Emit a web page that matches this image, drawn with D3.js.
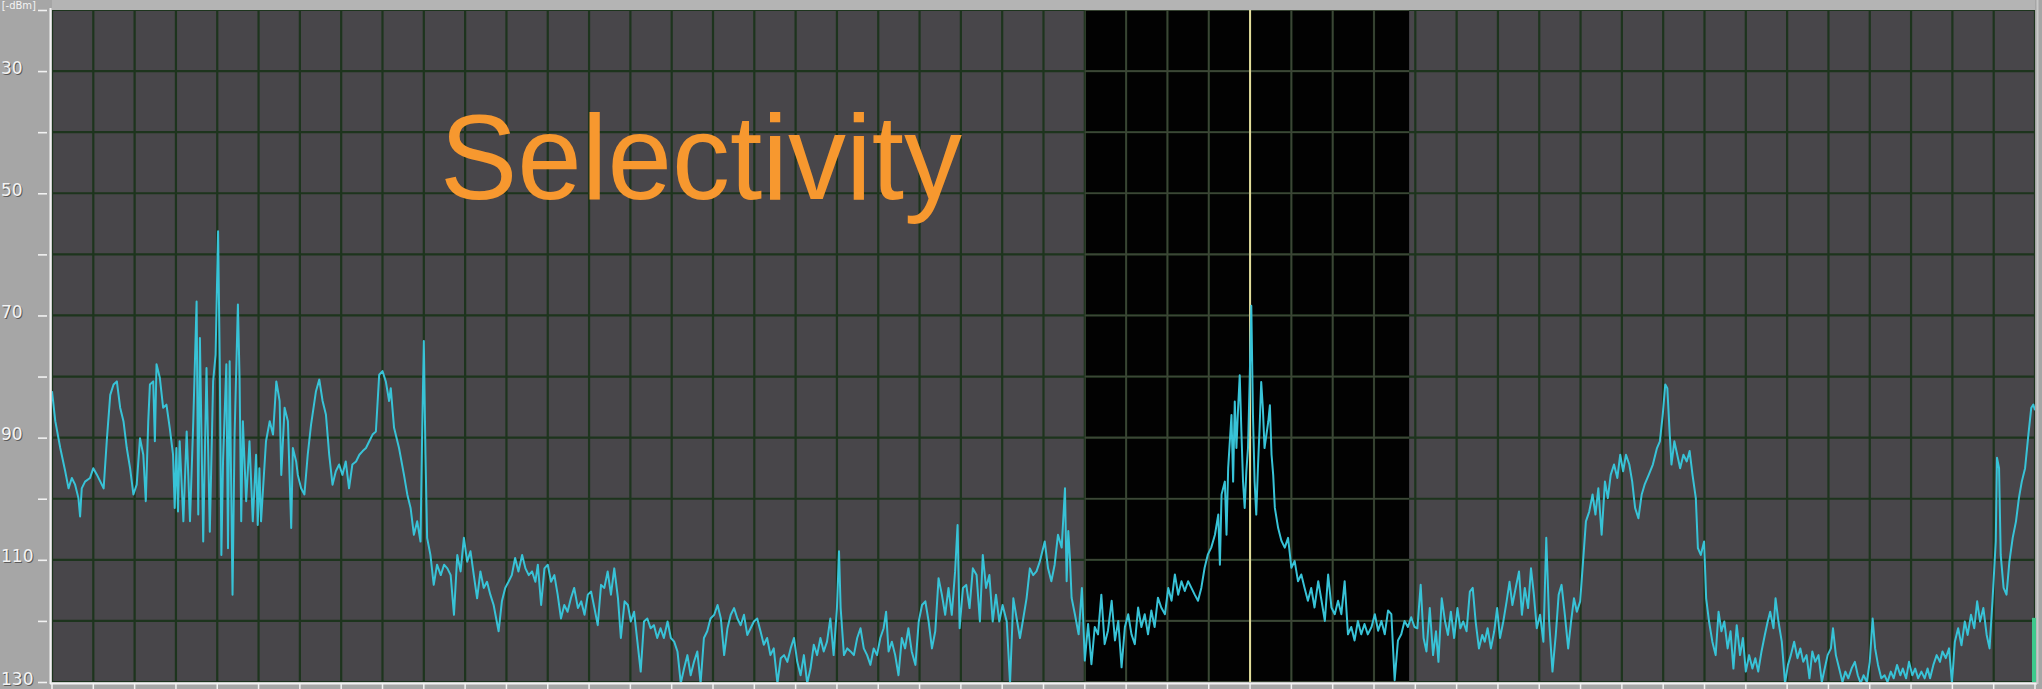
<!DOCTYPE html>
<html>
<head>
<meta charset="utf-8">
<script src="https://cdn.jsdelivr.net/npm/d3@7"></script>
<style>
  html, body { margin: 0; padding: 0; background: #a5a5a5; }
  svg { display: block; }
</style>
</head>
<body>
<svg id="chart" width="2042" height="689"></svg>
<script>
// Spectrum trace, [grid division, level dBm]; 48 divisions across the screen
const lowBand = [[0.00,-82.4],[0.08,-87.3],[0.20,-91.7],[0.32,-95.5],[0.40,-98.3],[0.48,-96.6],[0.56,-97.7],[0.64,-99.9],[0.68,-102.9],[0.72,-98.3],[0.80,-97.2],[0.92,-96.6],[1.00,-95.0],[1.09,-96.1],[1.17,-97.2],[1.25,-98.3],[1.33,-90.1],[1.41,-83.0],[1.49,-81.3],[1.57,-80.8],[1.65,-85.1],[1.73,-87.3],[1.81,-91.7],[1.89,-95.0],[1.97,-99.3],[2.05,-97.7],[2.13,-90.1],[2.21,-92.8],[2.27,-100.4],[2.33,-87.3],[2.37,-81.3],[2.45,-80.8],[2.49,-90.6],[2.53,-78.0],[2.61,-80.2],[2.69,-85.1],[2.77,-84.6],[2.85,-88.4],[2.93,-92.8],[2.97,-101.5],[3.01,-91.7],[3.05,-102.1],[3.09,-90.6],[3.18,-103.7],[3.26,-89.0],[3.34,-103.7],[3.42,-87.3],[3.50,-67.7],[3.54,-102.6],[3.58,-73.7],[3.66,-107.0],[3.74,-78.6],[3.82,-105.4],[3.90,-80.8],[3.96,-76.4],[4.02,-56.2],[4.06,-77.5],[4.10,-109.2],[4.14,-93.9],[4.22,-78.0],[4.26,-108.1],[4.30,-77.5],[4.37,-115.7],[4.42,-89.5],[4.50,-68.2],[4.54,-80.2],[4.58,-103.7],[4.62,-87.3],[4.70,-100.4],[4.78,-90.6],[4.86,-103.7],[4.94,-92.8],[4.98,-104.3],[5.02,-95.0],[5.06,-103.7],[5.10,-99.3],[5.18,-90.6],[5.27,-87.3],[5.35,-89.5],[5.43,-80.8],[5.51,-84.0],[5.55,-96.1],[5.63,-85.1],[5.71,-87.3],[5.79,-104.8],[5.83,-91.7],[5.91,-93.9],[5.95,-96.1],[6.03,-98.3],[6.11,-99.3],[6.19,-92.8],[6.27,-87.9],[6.39,-82.4],[6.47,-80.5],[6.55,-84.0],[6.63,-86.2],[6.71,-92.8],[6.79,-97.7],[6.87,-95.5],[6.95,-94.4],[7.03,-96.1],[7.11,-93.9],[7.19,-98.3],[7.27,-94.4],[7.36,-93.9],[7.44,-92.8],[7.52,-92.2],[7.60,-91.7],[7.68,-90.6],[7.76,-89.5],[7.84,-89.0],[7.92,-79.7],[8.00,-79.1],[8.08,-80.8],[8.16,-84.0],[8.20,-81.9],[8.28,-88.4],[8.40,-91.7],[8.52,-96.1],[8.60,-99.3],[8.68,-101.5],[8.76,-105.9],[8.84,-103.7],[8.92,-107.0],[8.96,-89.5],[9.00,-74.2],[9.04,-92.8],[9.08,-106.4],[9.16,-109.2],[9.24,-114.1],[9.32,-110.8],[9.41,-112.5],[9.49,-110.8],[9.57,-111.4],[9.65,-112.5],[9.73,-119.0],[9.81,-109.2],[9.89,-111.9],[9.97,-106.4],[10.05,-110.3],[10.13,-108.6],[10.21,-112.5],[10.29,-116.3],[10.37,-111.9],[10.45,-114.6],[10.53,-113.6],[10.61,-115.7],[10.69,-117.4],[10.81,-121.7],[10.89,-116.8],[10.97,-114.6],[11.05,-113.6],[11.13,-112.5],[11.21,-109.7],[11.29,-111.9],[11.38,-109.2],[11.46,-111.4],[11.54,-112.5],[11.62,-111.9],[11.70,-113.6]];

const midBand = [[11.76,-110.8],[11.84,-117.4],[11.92,-111.4],[12.00,-110.8],[12.08,-113.6],[12.16,-112.5],[12.24,-115.7],[12.32,-119.6],[12.40,-117.4],[12.48,-118.5],[12.56,-116.3],[12.64,-114.6],[12.73,-117.9],[12.81,-116.8],[12.89,-119.0],[12.97,-115.7],[13.05,-115.2],[13.13,-117.9],[13.21,-120.7],[13.29,-114.1],[13.37,-114.6],[13.45,-111.9],[13.53,-115.7],[13.61,-111.4],[13.70,-116.3],[13.77,-122.8],[13.86,-116.8],[13.94,-117.4],[14.01,-120.1],[14.09,-118.5],[14.17,-123.4],[14.25,-128.3],[14.33,-120.1],[14.41,-119.6],[14.49,-121.2],[14.57,-120.7],[14.65,-122.8],[14.73,-121.2],[14.81,-122.8],[14.90,-120.1],[14.98,-122.8],[15.06,-123.4],[15.14,-125.0],[15.22,-130.2],[15.30,-127.8],[15.38,-125.6],[15.46,-128.9],[15.54,-126.7],[15.62,-125.0],[15.70,-130.2],[15.78,-122.8],[15.86,-121.7],[15.94,-119.6],[16.03,-119.0],[16.11,-117.4],[16.19,-119.6],[16.27,-125.6],[16.35,-121.2],[16.43,-119.0],[16.51,-117.9],[16.59,-119.6],[16.67,-120.7],[16.75,-119.0],[16.83,-122.3],[16.91,-121.2],[16.99,-120.1],[17.07,-119.6],[17.15,-121.7],[17.23,-123.9],[17.31,-122.8],[17.39,-125.6],[17.47,-124.5],[17.56,-130.2],[17.64,-126.1],[17.72,-125.6],[17.80,-126.7],[17.88,-124.5],[17.96,-122.8],[18.04,-126.7],[18.12,-128.9],[18.20,-125.6],[18.28,-130.2],[18.36,-127.8],[18.44,-123.9],[18.52,-125.6],[18.60,-122.8],[18.68,-125.0],[18.76,-123.4],[18.84,-119.6],[18.92,-125.6],[19.00,-117.9],[19.05,-108.6],[19.09,-117.9],[19.17,-125.6],[19.25,-124.5],[19.33,-125.0],[19.41,-125.6],[19.49,-122.8],[19.57,-121.2],[19.65,-124.5],[19.73,-125.6],[19.81,-127.2],[19.89,-124.5],[19.97,-125.6],[20.05,-122.8],[20.13,-121.2],[20.19,-118.5],[20.25,-125.0],[20.33,-123.4],[20.41,-125.6],[20.49,-128.9],[20.57,-122.8],[20.65,-124.5],[20.73,-121.2],[20.81,-125.0],[20.90,-127.2],[20.98,-120.1],[21.06,-117.4],[21.14,-116.8],[21.22,-120.1],[21.30,-124.5],[21.38,-121.7],[21.46,-113.0],[21.54,-115.7],[21.62,-119.0],[21.70,-114.6],[21.78,-119.0],[21.86,-111.9],[21.92,-104.3],[21.97,-121.2],[22.05,-114.6],[22.13,-114.1],[22.21,-117.9],[22.29,-111.4],[22.38,-112.5],[22.46,-120.1],[22.53,-109.2],[22.61,-114.6],[22.69,-112.5],[22.77,-120.1],[22.85,-115.7],[22.93,-120.1],[23.01,-117.4],[23.11,-120.1],[23.19,-130.2],[23.27,-116.3],[23.35,-119.6],[23.43,-122.8],[23.51,-119.6],[23.59,-116.3],[23.67,-111.4],[23.75,-112.5],[23.83,-111.9],[23.91,-110.3],[24.03,-107.0],[24.11,-111.4]];

const passBand = [[24.19,-113.5],[24.27,-110.8],[24.35,-105.9],[24.44,-108.0],[24.52,-98.3],[24.56,-113.5],[24.60,-105.3],[24.64,-109.7],[24.68,-116.2],[24.76,-118.9],[24.85,-122.2],[24.93,-114.6],[25.00,-126.5],[25.08,-120.5],[25.16,-127.1],[25.24,-121.0],[25.32,-122.2],[25.40,-115.7],[25.48,-123.8],[25.56,-121.6],[25.65,-116.7],[25.73,-123.2],[25.81,-120.0],[25.89,-127.6],[25.97,-121.0],[26.05,-118.9],[26.13,-122.2],[26.21,-123.8],[26.29,-117.8],[26.37,-121.0],[26.45,-118.9],[26.53,-122.2],[26.61,-118.3],[26.69,-121.0],[26.77,-116.2],[26.85,-117.8],[26.94,-118.9],[27.02,-114.6],[27.10,-116.7],[27.18,-112.4],[27.26,-115.7],[27.34,-113.5],[27.42,-115.1],[27.50,-113.5],[27.58,-114.6],[27.66,-115.7],[27.74,-116.7],[27.82,-114.6],[27.90,-111.3],[27.98,-109.1],[28.06,-108.0],[28.15,-105.9],[28.23,-102.6],[28.27,-110.8],[28.31,-99.3],[28.39,-97.2],[28.43,-105.9],[28.47,-95.0],[28.55,-86.3],[28.59,-97.2],[28.63,-84.1],[28.67,-91.7],[28.71,-85.2],[28.75,-79.8],[28.79,-89.0],[28.83,-97.2],[28.87,-101.5],[28.91,-95.5],[28.95,-91.7],[28.99,-80.9],[29.03,-68.4],[29.07,-86.3],[29.11,-97.2],[29.15,-102.6],[29.19,-95.0],[29.23,-88.5],[29.27,-80.9],[29.31,-85.2],[29.35,-91.7],[29.44,-87.4],[29.48,-84.7],[29.52,-92.8],[29.56,-96.1],[29.60,-101.5],[29.68,-104.8],[29.76,-106.9],[29.84,-108.0],[29.92,-106.4],[30.00,-111.3],[30.08,-110.2],[30.16,-113.5],[30.24,-112.4],[30.32,-114.6],[30.40,-116.7],[30.48,-114.6],[30.56,-117.8],[30.65,-113.5],[30.73,-116.7],[30.81,-120.0],[30.89,-112.4],[30.97,-117.8],[31.05,-118.9],[31.13,-116.7],[31.21,-118.9],[31.29,-113.5],[31.37,-122.2],[31.45,-121.0],[31.53,-123.2],[31.61,-120.0],[31.69,-122.2],[31.77,-120.5],[31.85,-122.2],[31.94,-121.0],[32.02,-118.9],[32.10,-121.6],[32.18,-120.0],[32.26,-122.2],[32.34,-118.3],[32.42,-118.9],[32.50,-129.7],[32.58,-123.2],[32.66,-122.2],[32.74,-120.0],[32.82,-121.0],[32.90,-119.4],[32.98,-121.0]];

const highBand = [[33.05,-121.2],[33.13,-114.1],[33.20,-122.8],[33.27,-125.0],[33.35,-117.9],[33.43,-125.6],[33.50,-121.7],[33.56,-126.7],[33.64,-116.3],[33.72,-120.1],[33.79,-122.3],[33.86,-118.5],[33.94,-122.8],[34.02,-117.9],[34.09,-121.2],[34.16,-120.1],[34.24,-121.7],[34.32,-115.2],[34.39,-114.6],[34.46,-120.1],[34.54,-124.5],[34.62,-122.3],[34.68,-123.4],[34.75,-121.2],[34.83,-124.5],[34.91,-121.7],[34.98,-117.9],[35.05,-122.8],[35.13,-120.1],[35.21,-116.8],[35.28,-113.6],[35.35,-117.4],[35.43,-114.6],[35.51,-111.9],[35.58,-119.0],[35.65,-114.6],[35.73,-117.9],[35.80,-111.4],[35.87,-115.7],[35.94,-121.2],[36.02,-119.0],[36.10,-123.4],[36.17,-106.4],[36.24,-120.1],[36.32,-128.3],[36.40,-122.3],[36.47,-115.7],[36.54,-114.1],[36.62,-119.0],[36.70,-124.5],[36.77,-120.1],[36.84,-116.3],[36.91,-118.5],[36.99,-116.8],[37.06,-110.3],[37.13,-103.7],[37.21,-102.1],[37.29,-99.3],[37.36,-102.6],[37.43,-98.3],[37.51,-105.9],[37.59,-97.2],[37.66,-99.9],[37.73,-96.1],[37.81,-94.4],[37.89,-96.6],[37.96,-92.8],[38.03,-95.5],[38.10,-92.8],[38.18,-94.4],[38.25,-97.2],[38.32,-101.5],[38.40,-103.2],[38.48,-99.3],[38.55,-97.7],[38.65,-96.1],[38.75,-94.4],[38.85,-91.7],[38.92,-90.6],[38.99,-86.2],[39.05,-81.3],[39.10,-81.9],[39.15,-88.4],[39.20,-94.4],[39.27,-90.6],[39.34,-92.8],[39.41,-95.0],[39.49,-92.8],[39.57,-93.9],[39.64,-92.2],[39.71,-96.1],[39.79,-99.9],[39.84,-108.1],[39.91,-109.2],[39.99,-107.0],[40.04,-116.3],[40.11,-120.1],[40.19,-123.4],[40.27,-125.6],[40.34,-118.5],[40.41,-121.7],[40.48,-120.1],[40.56,-124.5],[40.63,-121.7],[40.70,-127.8],[40.78,-120.7],[40.86,-125.6],[40.93,-122.8],[41.00,-128.3],[41.08,-125.6],[41.16,-127.8],[41.23,-126.1],[41.30,-128.3],[41.38,-125.0],[41.46,-122.3],[41.53,-120.1],[41.59,-118.5],[41.67,-121.2],[41.72,-116.3],[41.79,-120.1],[41.87,-123.4],[41.95,-130.2],[42.02,-127.2],[42.09,-125.6],[42.17,-123.4],[42.25,-126.1],[42.32,-124.5],[42.39,-126.7],[42.47,-125.6],[42.54,-129.4],[42.61,-125.0],[42.68,-126.7],[42.76,-125.6],[42.84,-130.0],[42.91,-127.8],[42.98,-125.6],[43.06,-124.5],[43.11,-121.2],[43.18,-125.6],[43.26,-127.8],[43.34,-130.0],[43.41,-128.3],[43.48,-129.4],[43.56,-127.8],[43.64,-126.7],[43.71,-128.9],[43.78,-130.2],[43.85,-128.9],[43.93,-130.0],[44.00,-126.7],[44.07,-119.6],[44.13,-124.5],[44.20,-127.2],[44.28,-129.4],[44.36,-128.9],[44.43,-130.0],[44.51,-128.3],[44.58,-129.4],[44.66,-127.2],[44.74,-128.9],[44.80,-127.8],[44.88,-129.4],[44.95,-126.7],[45.03,-128.9],[45.10,-127.8],[45.17,-129.4],[45.25,-128.3],[45.33,-129.4],[45.40,-127.8],[45.46,-129.4],[45.54,-127.2],[45.62,-125.6],[45.70,-126.7],[45.76,-125.0],[45.84,-126.1],[45.92,-124.5],[45.99,-130.2],[46.06,-123.4],[46.14,-121.2],[46.22,-124.0],[46.30,-120.1],[46.37,-122.3],[46.45,-119.0],[46.53,-121.2],[46.60,-116.8],[46.67,-120.1],[46.75,-117.9],[46.83,-122.3],[46.90,-124.5],[46.97,-116.8],[47.05,-107.0],[47.08,-93.3],[47.13,-95.0],[47.17,-109.2],[47.24,-114.6],[47.31,-115.7],[47.38,-110.3],[47.46,-106.4],[47.54,-103.7],[47.61,-99.9],[47.68,-97.2],[47.76,-95.0],[47.84,-89.5],[47.91,-85.1],[47.96,-84.6],[48.00,-85.5]];

// Screen layout values
const divisions = d3.range(0, 49);                 // vertical grid lines
const levelTicks = d3.range(-20, -131, -10);        // horizontal grid lines, dBm
const levelLabels = [-30, -50, -70, -90, -110, -130];
const unitLabel = "[-dBm]";
const filterEdges = [25, 32.85];                    // receive filter passband, divisions
const tunedDivision = 29;                           // marker
const meterLevel = -119.5;                          // bar meter at right edge
const title = "Selectivity";

const svg = d3.select("#chart");
const W = 2042, H = 689;
const plot = { left: 52, right: 2035, top: 10, bottom: 682 };

const x = d3.scaleLinear().domain([0, 48]).range([plot.left, plot.right]);
const y = d3.scaleLinear().domain([-20, -130]).range([plot.top, plot.bottom]);

// Frame
svg.append("rect").attr("width", W).attr("height", H).attr("fill", "#a6a6a6");
svg.append("rect").attr("x", plot.left).attr("y", 0).attr("width", plot.right - plot.left).attr("height", plot.top)
  .attr("fill", "#b4b4b4");
svg.append("rect").attr("x", plot.left).attr("y", plot.top)
  .attr("width", plot.right - plot.left).attr("height", plot.bottom - plot.top)
  .attr("fill", "#48464a");

// Filter passband
svg.append("rect")
  .attr("x", x(filterEdges[0])).attr("y", plot.top)
  .attr("width", x(filterEdges[1]) - x(filterEdges[0]))
  .attr("height", plot.bottom - plot.top)
  .attr("fill", "#020202");

svg.append("clipPath").attr("id", "plotClip").append("rect")
  .attr("x", plot.left).attr("y", plot.top)
  .attr("width", plot.right - plot.left).attr("height", plot.bottom - plot.top);
svg.append("clipPath").attr("id", "passClip").append("rect")
  .attr("x", x(filterEdges[0])).attr("y", plot.top)
  .attr("width", x(filterEdges[1]) - x(filterEdges[0])).attr("height", plot.bottom - plot.top);

// Grid: dark green on the grey screen, lighter inside the passband
function drawGrid(g, color, width) {
  g.selectAll("line.v").data(divisions).join("line").attr("class", "v")
    .attr("x1", d => x(d)).attr("x2", d => x(d))
    .attr("y1", plot.top).attr("y2", plot.bottom)
    .attr("stroke", color).attr("stroke-width", width);
  g.selectAll("line.h").data(levelTicks).join("line").attr("class", "h")
    .attr("x1", plot.left).attr("x2", plot.right)
    .attr("y1", d => y(d)).attr("y2", d => y(d))
    .attr("stroke", color).attr("stroke-width", width);
}
drawGrid(svg.append("g").attr("clip-path", "url(#plotClip)"), "#1d341d", 2.2);
drawGrid(svg.append("g").attr("clip-path", "url(#passClip)"), "#3c4636", 1.6);

// Tuned frequency marker
svg.append("line")
  .attr("x1", x(tunedDivision)).attr("x2", x(tunedDivision))
  .attr("y1", plot.top).attr("y2", plot.bottom)
  .attr("stroke", "#e2dc9a").attr("stroke-width", 2);

// Spectrum trace
const trace = lowBand.concat(midBand, passBand, highBand);
const line = d3.line().x(d => x(d[0])).y(d => y(d[1]));
svg.append("path")
  .datum(trace)
  .attr("clip-path", "url(#plotClip)")
  .attr("d", line)
  .attr("fill", "none")
  .attr("stroke", "#38c3d7")
  .attr("stroke-width", 2)
  .attr("stroke-linejoin", "round");

// Bar meter
svg.append("rect")
  .attr("x", plot.right - 3).attr("y", y(meterLevel))
  .attr("width", 4).attr("height", y(-130) - y(meterLevel))
  .attr("fill", "#3dc98c");

// Axes
const axisColor = "#f2f2f2";
svg.append("line").attr("x1", plot.left - 1.5).attr("x2", plot.left - 1.5)
  .attr("y1", plot.top - 2).attr("y2", plot.bottom + 2)
  .attr("stroke", axisColor).attr("stroke-width", 2);
svg.append("line").attr("x1", plot.left - 2).attr("x2", plot.right + 2)
  .attr("y1", plot.bottom + 1.5).attr("y2", plot.bottom + 1.5)
  .attr("stroke", axisColor).attr("stroke-width", 2);
svg.append("line").attr("x1", plot.right + 2.5).attr("x2", plot.right + 2.5)
  .attr("y1", 0).attr("y2", plot.bottom + 2)
  .attr("stroke", "#c8c8c8").attr("stroke-width", 2);

svg.append("g").selectAll("line").data(divisions).join("line")
  .attr("x1", d => x(d)).attr("x2", d => x(d))
  .attr("y1", plot.bottom + 2).attr("y2", H)
  .attr("stroke", axisColor).attr("stroke-width", 1.5);

svg.append("g").selectAll("line").data(levelTicks).join("line")
  .attr("x1", plot.left - 14).attr("x2", plot.left - 5)
  .attr("y1", d => y(d) + 0.5).attr("y2", d => y(d) + 0.5)
  .attr("stroke", axisColor).attr("stroke-width", 1.6);

// Level labels show magnitudes; the unit reads -dBm
const labelG = svg.append("g")
  .attr("font-family", "DejaVu Sans, sans-serif")
  .attr("font-size", 17);
const fmt = d => String(Math.abs(d));
labelG.selectAll("text.shadow").data(levelLabels).join("text").attr("class", "shadow")
  .attr("x", 2).attr("y", d => y(d) + 3.5)
  .attr("fill", "#5a5a5a").text(fmt);
labelG.selectAll("text.face").data(levelLabels).join("text").attr("class", "face")
  .attr("x", 1).attr("y", d => y(d) + 2.5)
  .attr("fill", "#f4f4f4").text(fmt);
labelG.append("text").attr("x", 36).attr("y", 9).attr("text-anchor", "end")
  .attr("font-size", 10).attr("fill", "#f4f4f4").text(unitLabel);

// Title
svg.append("text")
  .attr("x", 440).attr("y", 199)
  .attr("font-family", "Liberation Sans, Arial, sans-serif")
  .attr("font-size", 121)
  .attr("textLength", 522)
  .attr("lengthAdjust", "spacingAndGlyphs")
  .attr("fill", "#f7982f")
  .text(title);
</script>
</body>
</html>
